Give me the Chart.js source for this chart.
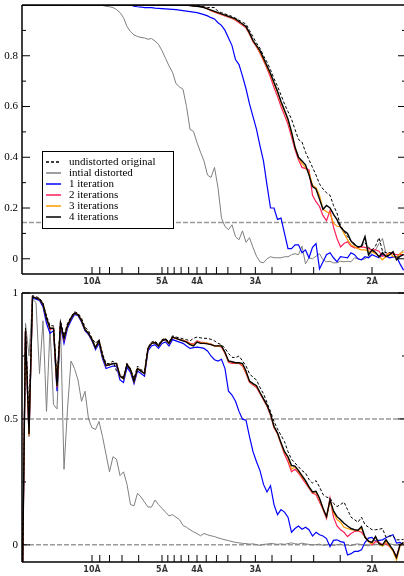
<!DOCTYPE html>
<html>
<head>
<meta charset="utf-8">
<script src="https://cdn.jsdelivr.net/npm/chart.js@4.4.1/dist/chart.umd.min.js"></script>
<style>
  html, body { margin: 0; padding: 0; background: #fff; }
  canvas { display: block; }
</style>
</head>
<body>
<canvas id="topChart" width="404" height="288"></canvas>
<canvas id="bottomChart" width="404" height="288"></canvas>
<script>
// spatial frequency (1/A) of each shell
const freq = [
  0, 0.005, 0.01, 0.015, 0.02, 0.025, 0.03, 0.035, 0.04, 0.045,
  0.05, 0.055, 0.06, 0.065, 0.07, 0.075, 0.08, 0.085, 0.09, 0.095,
  0.1, 0.105, 0.11, 0.115, 0.12, 0.125, 0.13, 0.135, 0.14, 0.145,
  0.15, 0.155, 0.16, 0.165, 0.17, 0.175, 0.18, 0.185, 0.19, 0.195,
  0.2, 0.205, 0.21, 0.215, 0.22, 0.225, 0.23, 0.235, 0.24, 0.245,
  0.25, 0.255, 0.26, 0.265, 0.27, 0.275, 0.28, 0.285, 0.29, 0.295,
  0.3, 0.305, 0.31, 0.315, 0.32, 0.325, 0.33, 0.335, 0.34, 0.345,
  0.35, 0.355, 0.36, 0.365, 0.37, 0.375, 0.38, 0.385, 0.39, 0.395,
  0.4, 0.405, 0.41, 0.415, 0.42, 0.425, 0.43, 0.435, 0.44, 0.445,
  0.45, 0.455, 0.46, 0.465, 0.47, 0.475, 0.48, 0.485, 0.49, 0.495,
  0.5, 0.505, 0.51, 0.515, 0.52, 0.525, 0.53, 0.535, 0.54, 0.545
];

const seriesNames = ['undistorted original', 'intial distorted', '1 iteration', '2 iterations', '3 iterations', '4 iterations'];

// resolution ticks (A)
const resLabelValues = [10, 5, 4, 3, 2];
const resLabels = ['10Å', '5Å', '4Å', '3Å', '2Å'];
const resMinorValues = [9, 8, 7, 6, 4.8, 4.6, 4.4, 4.2, 3.8, 3.6, 3.4, 3.2, 2.8, 2.6, 2.4, 2.2];

const topYTicks = [0, 0.2, 0.4, 0.6, 0.8];
const topYMinor = [0.1, 0.3, 0.5, 0.7, 0.9];
const bottomYTicks = [0, 0.5, 1];
const bottomYMinor = [0.25, 0.75];
const topThresholds = [0.143];
const bottomThresholds = [0, 0.5];

// ---- top panel ----
const topUndistorted = [
  1, 1, 1, 1, 1, 1, 1, 1, 1, 1,
  1, 1, 1, 1, 1, 1, 1, 1, 1, 1,
  1, 1, 1, 1, 1, 1, 1, 1, 1, 1,
  1, 1, 1, 1, 1, 1, 1, 1, 1, 1,
  1, 1, 1, 1, 1, 1, 1, 1, 1, 1,
  0.998, 0.996, 0.993, 0.99, 0.99, 0.99, 0.975, 0.97, 0.965, 0.96,
  0.955, 0.948, 0.94, 0.932, 0.925, 0.9, 0.875, 0.85, 0.83, 0.8,
  0.775, 0.745, 0.71, 0.68, 0.645, 0.61, 0.58, 0.55, 0.51, 0.47,
  0.46, 0.42, 0.39, 0.36, 0.33, 0.295, 0.275, 0.26, 0.25, 0.21,
  0.18, 0.13, 0.11, 0.087, 0.07, 0.06, 0.045, 0.05, 0.063, 0.045,
  0.035, 0.05, 0.083, 0.03, 0.024, 0.024, 0.02, 0.004, 0.01, 0.016
];
const topInitial = [
  1, 1, 1, 1, 1, 1, 1, 1, 1, 1,
  1, 1, 1, 1, 1, 1, 1, 1, 1, 1,
  1, 1, 1, 0.998, 0.995, 0.993, 0.99, 0.982, 0.97, 0.95,
  0.915, 0.895, 0.882, 0.876, 0.872, 0.87, 0.865, 0.868, 0.858, 0.845,
  0.82, 0.79, 0.76, 0.735, 0.69, 0.677, 0.668, 0.6, 0.51, 0.502,
  0.458, 0.42, 0.385, 0.33, 0.32, 0.36, 0.28, 0.16, 0.127, 0.115,
  0.134, 0.087, 0.075, 0.11, 0.065, 0.083, 0.045, 0.01, -0.012, -0.016,
  0, 0.008, 0.004, 0.004, 0.004, 0.008, 0.008, 0.016, 0.02, 0.016,
  0.05, -0.02, 0.004, 0, 0.01, 0.02, -0.004, -0.012, -0.01, -0.016,
  -0.016, -0.01, -0.012, -0.01, -0.012, 0.004, 0, -0.004, 0, 0.01,
  0.025, 0.035, 0.06, 0.08, 0.02, 0.004, 0.01, 0.008, 0.02, 0.035
];
const topIter1 = [
  1, 1, 1, 1, 1, 1, 1, 1, 1, 1,
  1, 1, 1, 1, 1, 1, 1, 1, 1, 1,
  1, 1, 1, 1, 1, 1, 1, 1, 1, 1,
  1, 1, 0.995, 0.993, 0.992, 0.99, 0.99, 0.99, 0.988, 0.987,
  0.986, 0.985, 0.984, 0.983, 0.982, 0.98, 0.978, 0.976, 0.974, 0.972,
  0.97, 0.966, 0.962, 0.957, 0.95, 0.945, 0.93, 0.92, 0.9, 0.87,
  0.84, 0.785, 0.765, 0.72, 0.67, 0.61, 0.56, 0.51, 0.445, 0.385,
  0.29, 0.2, 0.2, 0.155, 0.16, 0.1, 0.04, 0.04, 0.055, 0.055,
  0.024, 0.035, 0.004, 0.045, 0.06, -0.04, -0.012, 0.016, 0.024, 0.004,
  -0.012, 0.008, 0.006, 0.004, 0.024, 0.016, 0, -0.004, 0.008, 0.004,
  0.016, 0.01, 0.004, 0.016, 0.01, 0.004, 0.006, 0.008, -0.02, -0.045
];
const topIter2 = [
  1, 1, 1, 1, 1, 1, 1, 1, 1, 1,
  1, 1, 1, 1, 1, 1, 1, 1, 1, 1,
  1, 1, 1, 1, 1, 1, 1, 1, 1, 1,
  1, 1, 1, 1, 1, 1, 1, 1, 1, 1,
  1, 1, 1, 1, 1, 1, 1, 1, 0.998, 0.996,
  0.995, 0.993, 0.99, 0.985, 0.978, 0.972, 0.967, 0.962, 0.957, 0.952,
  0.947, 0.94, 0.93, 0.92, 0.91, 0.885, 0.855, 0.835, 0.81, 0.78,
  0.75, 0.715, 0.675, 0.64, 0.6, 0.565, 0.53, 0.48, 0.43, 0.39,
  0.36, 0.355, 0.35, 0.25, 0.225, 0.206, 0.17, 0.15, 0.19, 0.125,
  0.08, 0.047, 0.06, 0.067, 0.05, 0.043, 0.045, 0.047, 0.045, 0.04,
  0.035, 0.035, 0.03, 0.01, 0.015, 0.024, 0.02, 0.016, 0.016, 0.016
];
const topIter3 = [
  1, 1, 1, 1, 1, 1, 1, 1, 1, 1,
  1, 1, 1, 1, 1, 1, 1, 1, 1, 1,
  1, 1, 1, 1, 1, 1, 1, 1, 1, 1,
  1, 1, 1, 1, 1, 1, 1, 1, 1, 1,
  1, 1, 1, 1, 1, 1, 1, 1, 0.998, 0.996,
  0.995, 0.993, 0.99, 0.985, 0.979, 0.974, 0.969, 0.964, 0.959, 0.954,
  0.949, 0.943, 0.933, 0.923, 0.913, 0.888, 0.858, 0.838, 0.815, 0.785,
  0.755, 0.725, 0.69, 0.655, 0.615, 0.58, 0.545, 0.495, 0.44, 0.4,
  0.375, 0.36, 0.34, 0.29, 0.28, 0.25, 0.195, 0.185, 0.18, 0.14,
  0.128, 0.127, 0.1, 0.075, 0.055, 0.047, 0.04, 0.035, 0.035, 0.03,
  0.028, 0.02, 0.01, -0.004, 0.01, 0.024, 0.01, 0.004, 0.02, 0.028
];
const topIter4 = [
  1, 1, 1, 1, 1, 1, 1, 1, 1, 1,
  1, 1, 1, 1, 1, 1, 1, 1, 1, 1,
  1, 1, 1, 1, 1, 1, 1, 1, 1, 1,
  1, 1, 1, 1, 1, 1, 1, 1, 1, 1,
  1, 1, 1, 1, 1, 1, 1, 1, 0.998, 0.996,
  0.995, 0.993, 0.99, 0.985, 0.98, 0.975, 0.97, 0.965, 0.96, 0.955,
  0.95, 0.945, 0.935, 0.925, 0.915, 0.89, 0.86, 0.84, 0.82, 0.79,
  0.76, 0.73, 0.695, 0.66, 0.62, 0.585, 0.55, 0.5, 0.44, 0.4,
  0.385, 0.37, 0.33, 0.285, 0.275, 0.235, 0.195, 0.21, 0.2, 0.175,
  0.154, 0.125, 0.11, 0.1, 0.07, 0.055, 0.047, 0.05, 0.087, 0.016,
  0.035, 0.025, 0.008, 0.024, 0.008, 0.015, 0.028, -0.004, 0.01, 0.016
];

// ---- bottom panel ----
const bottomUndistorted = [
  -0.3, 0.86, 0.5, 0.99, 0.985, 0.98, 0.96, 0.91, 0.87, 0.87,
  0.66, 0.89, 0.83, 0.88, 0.905, 0.925, 0.92, 0.9, 0.865, 0.85,
  0.82, 0.8, 0.815, 0.76, 0.72, 0.72, 0.73, 0.69, 0.68, 0.665,
  0.72, 0.7, 0.66, 0.71, 0.695, 0.69, 0.785, 0.805, 0.81, 0.795,
  0.815, 0.82, 0.805, 0.83, 0.825, 0.822, 0.818, 0.815, 0.81, 0.82,
  0.825, 0.822, 0.82, 0.82, 0.816, 0.81, 0.8, 0.795, 0.78, 0.76,
  0.745, 0.743, 0.75, 0.73, 0.71, 0.68, 0.665, 0.655, 0.625, 0.6,
  0.565, 0.53, 0.49, 0.46, 0.435, 0.41, 0.37, 0.34, 0.325, 0.31,
  0.295, 0.285, 0.26, 0.245, 0.255, 0.23, 0.2, 0.19, 0.185, 0.165,
  0.152, 0.16, 0.17, 0.14, 0.11, 0.1, 0.09, 0.11, 0.08, 0.07,
  0.06, 0.06, 0.062, 0.065, 0.03, 0.035, 0.035, 0.02, 0.02, 0.022
];
const bottomInitial = [
  -0.3, 0.88, 0.75, 0.975, 0.963, 0.68, 0.89, 0.53, 0.86, 0.557,
  0.54, 0.88, 0.3, 0.54, 0.73, 0.7, 0.655, 0.57, 0.61, 0.5,
  0.465, 0.458, 0.49, 0.43, 0.36, 0.29, 0.35, 0.34, 0.275, 0.29,
  0.24, 0.16, 0.155, 0.205, 0.19, 0.17, 0.15, 0.15, 0.178, 0.16,
  0.145, 0.13, 0.115, 0.12, 0.11, 0.1, 0.077, 0.07, 0.06, 0.052,
  0.045, 0.036, 0.045, 0.04, 0.036, 0.033, 0.028, 0.024, 0.02, 0.017,
  0.013, 0.01, 0.008, 0.006, 0.005, 0.003, 0.004, 0.001, -0.002, 0.002,
  0.003, 0.006, 0.004, 0.002, 0.004, 0.002, 0.005, 0.008, 0.004, 0.003,
  0.007, 0.004, 0.002, -0.001, 0.001, 0.003, -0.002, 0, 0.002, -0.003,
  0.001, 0.003, -0.002, 0, -0.003, 0.002, 0.004, 0.001, -0.002, -0.004,
  0.001, 0.003, 0, -0.003, 0.002, 0.005, 0.001, -0.002, 0.003, 0.001
];
const bottomIter1 = [
  -0.3, 0.84, 0.43, 0.98, 0.975, 0.97, 0.945, 0.88, 0.84, 0.85,
  0.61, 0.87, 0.8, 0.86, 0.89, 0.915, 0.91, 0.885, 0.85, 0.835,
  0.81, 0.775, 0.8, 0.74, 0.7, 0.705, 0.71, 0.71, 0.655, 0.645,
  0.705, 0.685, 0.64, 0.69, 0.68, 0.67, 0.77, 0.79, 0.795, 0.78,
  0.8, 0.806, 0.79, 0.815, 0.81, 0.805, 0.8, 0.79, 0.78, 0.783,
  0.785, 0.783, 0.78, 0.77, 0.75, 0.735, 0.73, 0.737, 0.7, 0.61,
  0.595, 0.57, 0.53, 0.499, 0.495, 0.43, 0.37, 0.33, 0.295, 0.24,
  0.21, 0.235, 0.16, 0.12, 0.14, 0.13, 0.11, 0.05, 0.065, 0.075,
  0.062, 0.07, 0.06, 0.035, 0.05, 0.04, 0.035, 0.025, -0.007, 0.018,
  0.02, 0.013, 0.01, -0.04, -0.035, -0.026, -0.026, -0.02, 0.01, 0.027,
  0.03, 0.015, 0.018, 0.02, 0.028, 0.035, 0.04, 0.007, 0.01, 0
];
const bottomIter2 = [
  -0.3, 0.85, 0.44, 0.985, 0.98, 0.975, 0.955, 0.9, 0.855, 0.86,
  0.625, 0.88, 0.815, 0.87, 0.9, 0.92, 0.914, 0.89, 0.855, 0.84,
  0.815, 0.783, 0.81, 0.75, 0.71, 0.715, 0.72, 0.72, 0.67, 0.66,
  0.716, 0.695, 0.65, 0.7, 0.69, 0.68, 0.78, 0.8, 0.803, 0.79,
  0.81, 0.816, 0.8, 0.825, 0.82, 0.815, 0.812, 0.808, 0.8, 0.797,
  0.81, 0.805, 0.803, 0.8, 0.797, 0.79, 0.79, 0.785, 0.76, 0.725,
  0.72, 0.72, 0.72, 0.71, 0.68, 0.645, 0.635, 0.625, 0.6, 0.575,
  0.55, 0.515, 0.465, 0.44, 0.4, 0.36, 0.33, 0.29, 0.3, 0.285,
  0.265, 0.245, 0.225, 0.205, 0.2, 0.17, 0.14, 0.105, 0.186, 0.11,
  0.075, 0.06, 0.05, 0.033, 0.045, 0.053, 0.055, 0.05, 0.033, 0.015,
  0, 0.013, 0.01, 0, 0.005, -0.007, -0.02, -0.046, 0, 0.005
];
const bottomIter3 = [
  -0.3, 0.85, 0.43, 0.985, 0.98, 0.975, 0.955, 0.9, 0.86, 0.86,
  0.63, 0.88, 0.82, 0.87, 0.9, 0.92, 0.914, 0.89, 0.855, 0.84,
  0.815, 0.783, 0.81, 0.75, 0.712, 0.715, 0.72, 0.72, 0.67, 0.66,
  0.716, 0.695, 0.65, 0.7, 0.69, 0.68, 0.78, 0.8, 0.803, 0.79,
  0.81, 0.816, 0.8, 0.825, 0.82, 0.815, 0.812, 0.806, 0.798, 0.793,
  0.807, 0.803, 0.802, 0.8, 0.796, 0.79, 0.79, 0.788, 0.763, 0.728,
  0.725, 0.722, 0.722, 0.715, 0.685, 0.648, 0.638, 0.63, 0.603, 0.578,
  0.553, 0.518, 0.468, 0.442, 0.403, 0.367, 0.345, 0.3, 0.31, 0.292,
  0.27, 0.252, 0.228, 0.208, 0.21, 0.18, 0.143, 0.11, 0.175, 0.128,
  0.1, 0.09, 0.07, 0.065, 0.06, 0.058, 0.056, 0.065, 0.03, 0.012,
  0.005, 0.03, 0.005, -0.005, 0.015, -0.005, -0.025, -0.06, -0.005, 0.005
];
const bottomIter4 = [
  -0.3, 0.85, 0.44, 0.985, 0.98, 0.975, 0.955, 0.9, 0.86, 0.86,
  0.63, 0.88, 0.82, 0.87, 0.9, 0.92, 0.914, 0.89, 0.855, 0.84,
  0.815, 0.783, 0.81, 0.75, 0.712, 0.715, 0.72, 0.72, 0.67, 0.66,
  0.716, 0.695, 0.65, 0.7, 0.69, 0.68, 0.78, 0.8, 0.803, 0.79,
  0.81, 0.816, 0.8, 0.825, 0.82, 0.815, 0.81, 0.805, 0.795, 0.79,
  0.805, 0.8, 0.8, 0.798, 0.795, 0.79, 0.79, 0.79, 0.765, 0.73,
  0.727, 0.723, 0.723, 0.72, 0.69, 0.65, 0.64, 0.632, 0.605, 0.58,
  0.555, 0.52, 0.47, 0.445, 0.405, 0.37, 0.35, 0.315, 0.313, 0.295,
  0.275, 0.255, 0.23, 0.21, 0.213, 0.185, 0.145, 0.112, 0.179, 0.135,
  0.112, 0.1, 0.086, 0.075, 0.065, 0.06, 0.058, 0.073, 0.03, 0.015,
  0.01, 0.033, 0.005, 0, 0.02, 0, -0.02, -0.05, 0, 0.01
];

// line styles, same order as seriesNames
const seriesStyles = [
  { color: '#000000', width: 1, dash: [3, 2], order: 1 },
  { color: '#7f7f7f', width: 1, dash: [], order: 5 },
  { color: '#0000ff', width: 1.2, dash: [], order: 4 },
  { color: '#ff1f5a', width: 1.2, dash: [], order: 3 },
  { color: '#ff9a00', width: 1.2, dash: [], order: 2 },
  { color: '#000000', width: 1.4, dash: [], order: 0 }
];

function buildDatasets(series) {
  return series.map((values, k) => ({
    label: seriesNames[k],
    data: values.map((v, i) => ({ x: freq[i], y: v })),
    borderColor: seriesStyles[k].color,
    borderWidth: seriesStyles[k].width,
    borderDash: seriesStyles[k].dash,
    order: seriesStyles[k].order,
    pointRadius: 0,
    tension: 0,
    fill: false
  }));
}

function strokeLine(ctx, x1, y1, x2, y2) {
  ctx.beginPath();
  ctx.moveTo(x1, y1);
  ctx.lineTo(x2, y2);
  ctx.stroke();
}

const framePlugin = {
  id: 'frame',
  beforeDatasetsDraw(chart, args, opts) {
    const { ctx, chartArea: a, scales: { y } } = chart;
    ctx.save();
    ctx.strokeStyle = '#9a9a9a';
    ctx.lineWidth = 1.5;
    ctx.setLineDash([5, 2]);
    opts.thresholds.forEach(v => {
      const py = y.getPixelForValue(v);
      strokeLine(ctx, a.left, py, a.right + 2, py);
    });
    ctx.restore();
  },
  afterDatasetsDraw(chart, args, opts) {
    const { ctx, chartArea: a, scales: { x, y } } = chart;
    const rightAxis = a.right + 2;
    ctx.save();
    ctx.strokeStyle = '#000';
    ctx.lineWidth = 1.5;
    ctx.setLineDash([]);
    strokeLine(ctx, a.left, a.top, rightAxis, a.top);
    strokeLine(ctx, a.left, a.top, a.left, a.bottom);
    strokeLine(ctx, a.left, a.bottom, rightAxis, a.bottom);

    ctx.lineWidth = 1;
    opts.yTicks.forEach(v => {
      const py = y.getPixelForValue(v);
      strokeLine(ctx, a.left, py, a.left + 8, py);
      strokeLine(ctx, rightAxis - 8, py, rightAxis, py);
    });
    opts.yMinor.forEach(v => {
      const py = y.getPixelForValue(v);
      strokeLine(ctx, a.left, py, a.left + 4, py);
      strokeLine(ctx, rightAxis - 4, py, rightAxis, py);
    });
    resLabelValues.concat(resMinorValues).forEach(r => {
      const px = x.getPixelForValue(1 / r);
      strokeLine(ctx, px, a.bottom, px, a.bottom - 7);
    });

    if (opts.legend) {
      ctx.fillStyle = '#fff';
      ctx.fillRect(42, 151, 131, 77);
      ctx.strokeStyle = '#000';
      ctx.lineWidth = 1;
      ctx.strokeRect(42.5, 151.5, 131, 77);
      ctx.font = '11px "Liberation Serif"';
      ctx.textBaseline = 'middle';
      chart.data.datasets.forEach((ds, k) => {
        const yy = 162 + k * 11;
        ctx.strokeStyle = ds.borderColor;
        ctx.lineWidth = 1.5;
        ctx.setLineDash(ds.borderDash);
        strokeLine(ctx, 46, yy, 61, yy);
        ctx.setLineDash([]);
        ctx.fillStyle = '#000';
        ctx.fillText(ds.label, 69, yy + 0.5);
      });
    }
    ctx.restore();
  }
};

function makeOptions(yMin, yTicks, yMinor, thresholds, legend) {
  return {
    responsive: false,
    animation: false,
    events: [],
    layout: { padding: { top: 5, right: 0, bottom: 0, left: 0 } },
    plugins: {
      legend: { display: false },
      tooltip: { enabled: false },
      frame: { yTicks: yTicks, yMinor: yMinor, thresholds: thresholds, legend: legend }
    },
    scales: {
      x: {
        type: 'linear',
        min: 0,
        max: 0.5457,
        grid: { display: false, drawTicks: false },
        border: { display: false },
        afterBuildTicks: s => { s.ticks = resLabelValues.map(r => ({ value: 1 / r })); },
        afterFit: s => { s.height = 14; s.paddingLeft = 0; s.paddingRight = 0; },
        ticks: {
          autoSkip: false,
          maxRotation: 0,
          padding: 3,
          color: '#333',
          font: { family: 'DejaVu Sans', size: 8, weight: 'bold' },
          callback: (v, i) => resLabels[i]
        }
      },
      y: {
        type: 'linear',
        min: yMin,
        max: 1,
        grid: { display: false, drawTicks: false },
        border: { display: false },
        afterBuildTicks: s => { s.ticks = yTicks.map(v => ({ value: v })); },
        afterFit: s => { s.width = 22; s.paddingTop = 0; s.paddingBottom = 0; },
        ticks: {
          padding: 4,
          color: '#000',
          font: { family: 'Liberation Serif', size: 11 },
          callback: v => String(v)
        }
      }
    }
  };
}

new Chart(document.getElementById('topChart'), {
  type: 'line',
  data: { datasets: buildDatasets([topUndistorted, topInitial, topIter1, topIter2, topIter3, topIter4]) },
  options: makeOptions(-0.06, topYTicks, topYMinor, topThresholds, true),
  plugins: [framePlugin]
});

new Chart(document.getElementById('bottomChart'), {
  type: 'line',
  data: { datasets: buildDatasets([bottomUndistorted, bottomInitial, bottomIter1, bottomIter2, bottomIter3, bottomIter4]) },
  options: makeOptions(-0.068, bottomYTicks, bottomYMinor, bottomThresholds, false),
  plugins: [framePlugin]
});
</script>
</body>
</html>
